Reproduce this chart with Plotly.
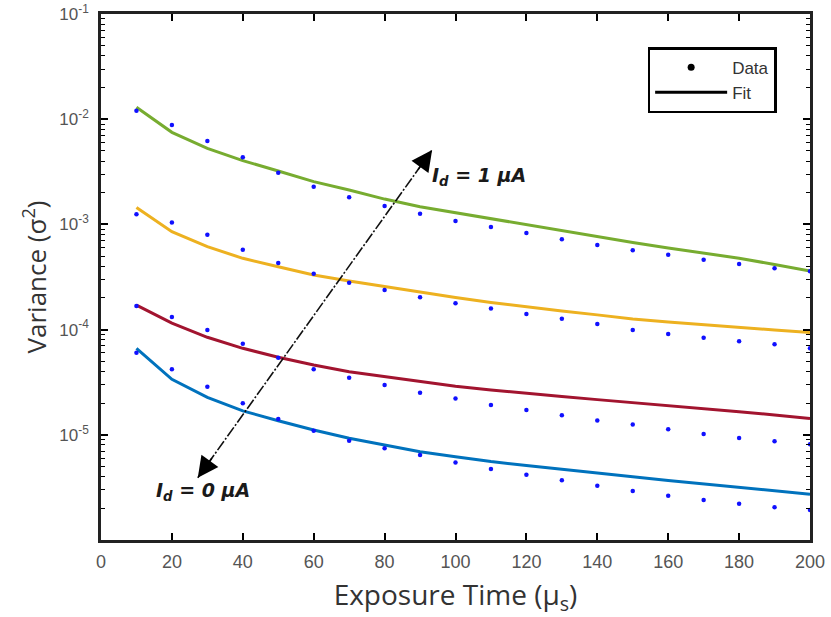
import math
import plotly.graph_objects as go

# ---- data ----
exposure = [10, 20, 30, 40, 50, 60, 70, 80, 90, 100, 110, 120, 130, 140, 150, 160, 170, 180, 190, 200]

data_1uA = [1.20e-2, 8.8e-3, 6.2e-3, 4.35e-3, 3.1e-3, 2.28e-3, 1.81e-3, 1.50e-3, 1.26e-3, 1.08e-3,
            9.45e-4, 8.28e-4, 7.21e-4, 6.37e-4, 5.67e-4, 5.15e-4, 4.62e-4, 4.20e-4, 3.83e-4, 3.58e-4]
fit_1uA = [1.30e-2, 7.5e-3, 5.28e-3, 4.04e-3, 3.22e-3, 2.55e-3, 2.12e-3, 1.74e-3, 1.47e-3, 1.29e-3,
           1.13e-3, 9.9e-4, 8.7e-4, 7.6e-4, 6.73e-4, 5.97e-4, 5.35e-4, 4.77e-4, 4.16e-4, 3.61e-4]

data_b = [1.25e-3, 1.04e-3, 7.98e-4, 5.75e-4, 4.30e-4, 3.40e-4, 2.79e-4, 2.38e-4, 2.03e-4, 1.78e-4,
          1.59e-4, 1.41e-4, 1.27e-4, 1.13e-4, 9.9e-5, 9.08e-5, 8.38e-5, 7.74e-5, 7.25e-5, 6.64e-5]
fit_b = [1.45e-3, 8.53e-4, 6.14e-4, 4.76e-4, 3.96e-4, 3.30e-4, 2.90e-4, 2.56e-4, 2.28e-4, 2.02e-4,
         1.81e-4, 1.64e-4, 1.50e-4, 1.38e-4, 1.26e-4, 1.18e-4, 1.11e-4, 1.05e-4, 9.9e-5, 9.4e-5]

data_c = [1.68e-4, 1.32e-4, 9.9e-5, 7.35e-5, 5.41e-5, 4.20e-5, 3.49e-5, 2.97e-5, 2.51e-5, 2.21e-5,
          1.92e-5, 1.72e-5, 1.53e-5, 1.37e-5, 1.25e-5, 1.13e-5, 1.02e-5, 9.33e-6, 8.67e-6, 8.12e-6]
fit_c = [1.71e-4, 1.15e-4, 8.45e-5, 6.64e-5, 5.46e-5, 4.61e-5, 3.98e-5, 3.56e-5, 3.18e-5, 2.89e-5,
         2.67e-5, 2.47e-5, 2.31e-5, 2.16e-5, 2.03e-5, 1.90e-5, 1.78e-5, 1.66e-5, 1.54e-5, 1.43e-5]

data_0uA = [6.03e-5, 4.20e-5, 2.86e-5, 2.00e-5, 1.41e-5, 1.09e-5, 8.79e-6, 7.45e-6, 6.43e-6, 5.46e-6,
            4.73e-6, 4.18e-6, 3.69e-6, 3.28e-6, 2.92e-6, 2.64e-6, 2.40e-6, 2.21e-6, 2.05e-6, 1.93e-6]
fit_0uA = [6.64e-5, 3.37e-5, 2.27e-5, 1.69e-5, 1.36e-5, 1.11e-5, 9.27e-6, 8.0e-6, 6.90e-6, 6.19e-6,
           5.57e-6, 5.10e-6, 4.68e-6, 4.33e-6, 4.0e-6, 3.68e-6, 3.41e-6, 3.17e-6, 2.92e-6, 2.72e-6]

fit_colors = ["#77AC30", "#EDB120", "#A2142F", "#0072BD"]

# arrow (exposure, variance) endpoints
arrow_x = [27.3, 93.4]
arrow_y = [3.9e-6, 5.1e-3]

y_tickvals = [1e-5, 1e-4, 1e-3, 1e-2, 1e-1]
y_ticktext = ["10<sup>-5</sup>", "10<sup>-4</sup>", "10<sup>-3</sup>", "10<sup>-2</sup>", "10<sup>-1</sup>"]
x_tickvals = [0, 20, 40, 60, 80, 100, 120, 140, 160, 180, 200]

fig = go.Figure()

for fit, col in zip([fit_1uA, fit_b, fit_c, fit_0uA], fit_colors):
    fig.add_trace(go.Scatter(x=exposure, y=fit, mode="lines",
                             line=dict(color=col, width=3), showlegend=False))

for d in [data_1uA, data_b, data_c, data_0uA]:
    fig.add_trace(go.Scatter(x=exposure, y=d, mode="markers",
                             marker=dict(color="#1010FF", size=4.5), showlegend=False,
                             cliponaxis=False))

# dashed arrow shaft
fig.add_trace(go.Scatter(x=arrow_x, y=arrow_y, mode="lines",
                         line=dict(color="#111", width=1.6, dash="11px,2px,2px,2px"),
                         showlegend=False))

# legend-only entries
fig.add_trace(go.Scatter(x=[None], y=[None], mode="markers", name="Data",
                         marker=dict(color="black", size=7)))
fig.add_trace(go.Scatter(x=[None], y=[None], mode="lines", name="Fit",
                         line=dict(color="black", width=3)))

# arrow heads
ux, uy = 0.582, -0.813
L = 26
fig.add_annotation(x=arrow_x[1], y=math.log10(arrow_y[1]), xref="x", yref="y",
                   ax=-ux * L, ay=-uy * L, showarrow=True, arrowhead=2, arrowsize=2.6,
                   arrowwidth=1.6, arrowcolor="black", text="", standoff=0)
fig.add_annotation(x=arrow_x[0], y=math.log10(arrow_y[0]), xref="x", yref="y",
                   ax=ux * L, ay=uy * L, showarrow=True, arrowhead=2, arrowsize=2.6,
                   arrowwidth=1.6, arrowcolor="black", text="", standoff=0)

fig.add_annotation(x=92.8, y=-2.54, xref="x", yref="y", xanchor="left", yanchor="middle",
                   text="<b><i>I<sub>d</sub> = 1 μA</i></b>", showarrow=False,
                   font=dict(family="DejaVu Sans", size=19, color="#1a1a1a"))
fig.add_annotation(x=14.9, y=-5.54, xref="x", yref="y", xanchor="left", yanchor="middle",
                   text="<b><i>I<sub>d</sub> = 0 μA</i></b>", showarrow=False,
                   font=dict(family="DejaVu Sans", size=19, color="#1a1a1a"))

minor_vals = [m * 10.0 ** e for e in range(-6, -1) for m in range(2, 10)]

fig.update_layout(
    width=831, height=617,
    margin=dict(l=101, r=21, t=14, b=77),
    paper_bgcolor="white", plot_bgcolor="white",
    font=dict(family="Liberation Sans, Arial", color="#444"),
    legend=dict(x=0.771, y=0.937, xanchor="left", yanchor="top",
                bgcolor="white", bordercolor="black", borderwidth=2.5,
                font=dict(size=17, color="#333"), itemwidth=72),
    xaxis=dict(range=[0, 200], tickvals=x_tickvals, ticks="inside", ticklen=7,
               tickwidth=1.5, tickcolor="black", showline=True, linecolor="#222",
               linewidth=2.5, mirror="ticks", showgrid=False, zeroline=False,
               automargin=False, ticklabelstandoff=4,
               tickfont=dict(size=18, color="#555"),
               title=dict(text="Exposure Time (μ<sub>s</sub>)",
                          font=dict(family="Open Sans", size=28, color="#333"),
                          standoff=16)),
    yaxis=dict(type="log", range=[-6, -1], tickvals=y_tickvals, ticktext=y_ticktext,
               ticks="inside", ticklen=7, tickwidth=1.5, tickcolor="black",
               showline=True, linecolor="#222", linewidth=2.5, mirror="ticks",
               showgrid=False, zeroline=False, automargin=False, ticklabelstandoff=6,
               tickfont=dict(size=17, color="#555"),
               minor=dict(tickvals=minor_vals, ticks="inside", ticklen=4, tickwidth=1.2,
                          tickcolor="black", showgrid=False),
               title=dict(text="Variance (σ<sup>2</sup>)",
                          font=dict(family="Open Sans", size=26, color="#333"),
                          standoff=6)),
)

fig.write_html("out.html")
